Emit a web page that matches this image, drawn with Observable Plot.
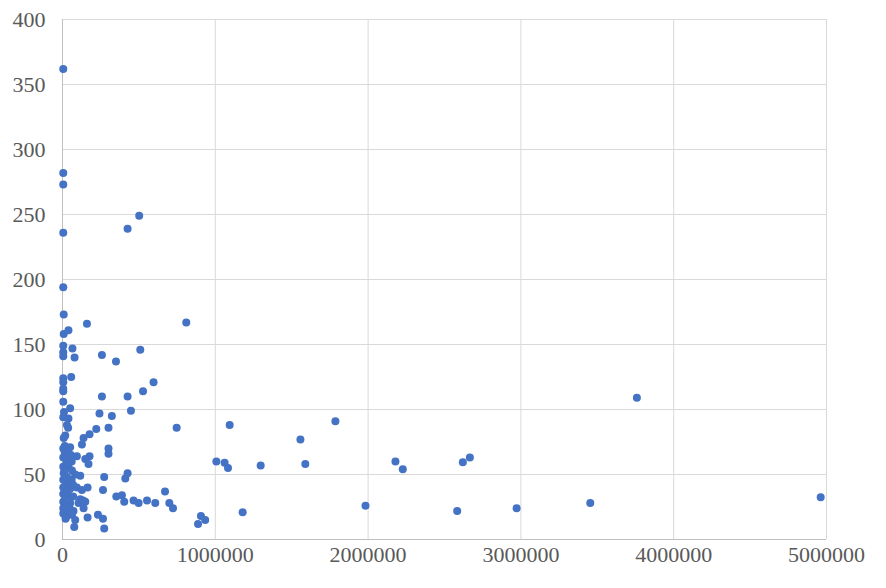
<!DOCTYPE html>
<html>
<head>
<meta charset="utf-8">
<script src="https://cdn.jsdelivr.net/npm/d3@7"></script>
<script src="https://cdn.jsdelivr.net/npm/@observablehq/plot@0.6"></script>
<style>
  html, body { margin: 0; padding: 0; background: #fff; }
  #chart { width: 886px; height: 588px; }
</style>
</head>
<body>
<div id="chart"></div>
<script>
const xTicks = [0, 1000000, 2000000, 3000000, 4000000, 5000000];
const yTicks = [0, 50, 100, 150, 200, 250, 300, 350, 400];

const xValues = [
  5000, 5000, 5000, 5000, 5000, 8000, 8000, 39000, 160000, 5000,
  65000, 5000, 5000, 79000, 258000, 350000, 509000, 5000, 57000, 5000,
  596000, 5000, 5000, 5000, 258000, 426000, 527000, 502000, 426000, 810000,
  50000, 10000, 5000, 39000, 29000, 37000, 18000, 8000, 15000, 50000,
  5000, 15000, 37000, 5000, 94000, 29000, 5000, 39000, 62000, 8000,
  83000, 116000, 5000, 39000, 5000, 50000, 94000, 127000, 5000, 39000,
  116000, 5000, 50000, 105000, 5000, 29000, 72000, 5000, 39000, 62000,
  20000, 83000,
  242000, 323000, 448000, 221000, 301000, 177000, 138000, 127000, 301000, 301000,
  177000, 149000, 170000, 273000, 426000, 411000, 265000, 164000, 352000, 389000,
  404000, 465000, 498000, 553000, 607000, 134000, 149000, 138000, 164000, 232000,
  265000, 273000, 77000,
  747000, 1094000, 1007000, 1061000, 1083000, 1297000, 671000, 699000, 723000, 906000,
  934000, 887000, 1179000, 1786000, 1557000, 1589000, 2179000, 2227000, 2620000, 2666000,
  1983000, 2583000, 2972000, 3759000, 3454000, 4962000,
  20000, 25000, 60000, 70000, 45000, 12000, 25000, 60000, 15000, 30000,
  70000, 22000, 55000
];

const yValues = [
  362, 282, 273, 236, 194, 173, 158, 161, 166, 149,
  147, 144, 141, 140, 142, 137, 146, 124, 125, 121,
  121, 116, 114, 106, 110, 110, 114, 249, 239, 167,
  101, 98, 94, 93, 88, 86, 80, 78, 72, 71,
  70, 67, 66, 63, 64, 61, 56, 56, 53, 51,
  50, 49, 46, 44, 40, 39, 40, 38, 35, 34,
  31, 29, 28, 28, 24, 22, 22, 20, 19, 19,
  16, 15,
  97, 95, 99, 85, 86, 81, 78, 73, 70, 66,
  64, 62, 58, 48, 51, 47, 38, 40, 33, 34,
  29, 30, 28, 30, 28, 30, 29, 24, 17, 19,
  16, 8.5, 9.7,
  86, 88, 60, 59, 55, 57, 37, 28, 24, 18,
  15, 12, 21, 91, 77, 58, 60, 54, 59.5, 63,
  26, 22, 24, 109, 28, 32.5,
  45, 58, 46, 33, 25, 52, 36, 60, 30, 48,
  42, 17, 65
];

const points = xValues.map((x, i) => ({x, y: yValues[i]}));

const chart = Plot.plot({
  width: 886,
  height: 588,
  marginLeft: 62,
  marginRight: 60,
  marginTop: 19,
  marginBottom: 49,
  style: {
    fontFamily: "'Liberation Serif', 'Times New Roman', serif",
    fontSize: "22px",
    color: "#595959",
    background: "#ffffff"
  },
  x: {domain: [0, 5000000], ticks: xTicks},
  y: {domain: [0, 400], ticks: yTicks},
  marks: [
    Plot.gridX(xTicks, {stroke: "#d9d9d9", strokeOpacity: 1}),
    Plot.gridY(yTicks, {stroke: "#d9d9d9", strokeOpacity: 1}),
    Plot.ruleX([0], {stroke: "#bfbfbf"}),
    Plot.ruleY([0], {stroke: "#bfbfbf"}),
    Plot.axisX(xTicks, {tickSize: 0, tickPadding: 7, tickFormat: d => String(d), label: null, fill: "#595959"}),
    Plot.axisY(yTicks, {tickSize: 0, tickPadding: 17, tickFormat: d => String(d), label: null, fill: "#595959"}),
    Plot.dot(points, {x: "x", y: "y", r: 4, fill: "#4472C4", stroke: "none"})
  ]
});
document.getElementById("chart").appendChild(chart);
</script>
</body>
</html>
